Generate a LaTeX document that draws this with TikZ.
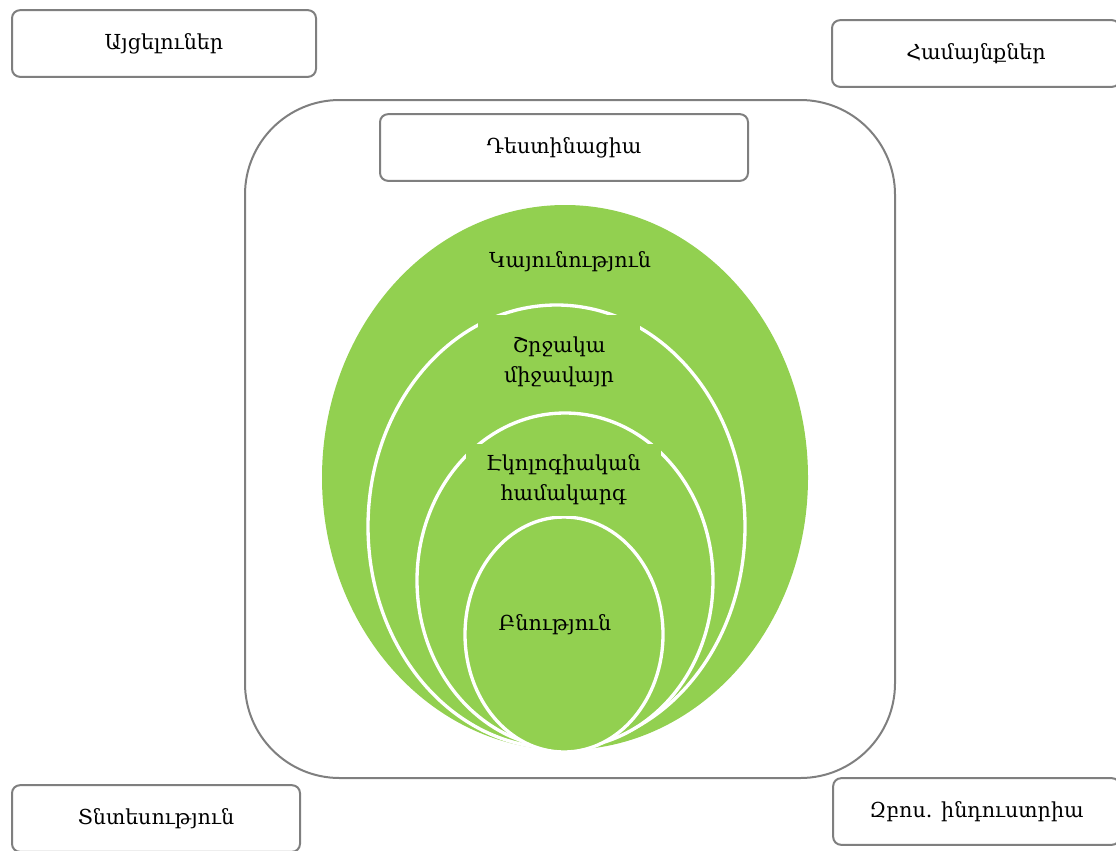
\documentclass[tikz,border=0pt]{standalone}
\usepackage{fontspec}
\setmainfont{DejaVu Serif}
\usetikzlibrary{shapes.geometric}

\definecolor{leafgreen}{HTML}{92D050}
\definecolor{framegray}{HTML}{7F7F7F}

\tikzset{
  sidebox/.style={draw=framegray, line width=1.5pt, rounded corners=6pt, fill=white,
    minimum height=50pt, font=\fontsize{15.5}{19}\selectfont},
  ring/.style={ellipse, fill=leafgreen, draw=white, line width=2.5pt, inner sep=0pt},
  ringlabel/.style={fill=leafgreen, inner sep=0pt, align=center,
    font=\fontsize{15.5}{22.5}\selectfont},
}

\begin{document}
\begin{tikzpicture}[x=0.75pt, y=-0.75pt]
  \clip (0,0) rectangle (1116,850);

  % big frame around the rings
  \draw [framegray, line width=1.5pt, rounded corners=71pt] (245,100) rectangle (895,778);

  \node [ring, draw=none, minimum width=364.5pt, minimum height=408.75pt] (sustain) at (565,477.5) {};
  \node [ring, minimum width=282.75pt, minimum height=332.25pt] (environ) at (556.5,526.5) {};
  \node [ring, minimum width=222pt, minimum height=251.25pt] (ecosys) at (565,580.5) {};
  \node [ring, minimum width=148.5pt, minimum height=176.25pt] (nature) at (564,634.5) {};

  % labels of the rings
  \node [ringlabel] (sustaintext) at (570,262) {Կայունություն};
  \node [ringlabel, minimum width=121.5pt, minimum height=71.25pt] (environtext) at (559,362) {Շրջակա\\միջավայր};
  \node [ringlabel, minimum width=146.25pt, minimum height=54pt] (ecosystext) at (563.5,480) {Էկոլոգիական\\համակարգ};
  \node [ringlabel] (naturetext) at (555,625) {Բնություն};

  % boxes round the frame
  \node [sidebox, minimum width=228pt] (visitors) at (164,43.5) {Այցելուներ};
  \node [sidebox, minimum width=216pt] (communities) at (976,53.5) {Համայնքներ};
  \node [sidebox, minimum width=276pt] (destination) at (564,147.5) {Դեստինացիա};
  \node [sidebox, minimum width=216pt] (economy) at (156,818.5) {Տնտեսություն};
  \node [sidebox, minimum width=215pt] (industry) at (976.5,811.5) {Զբոս. ինդուստրիա};
\end{tikzpicture}
\end{document}
